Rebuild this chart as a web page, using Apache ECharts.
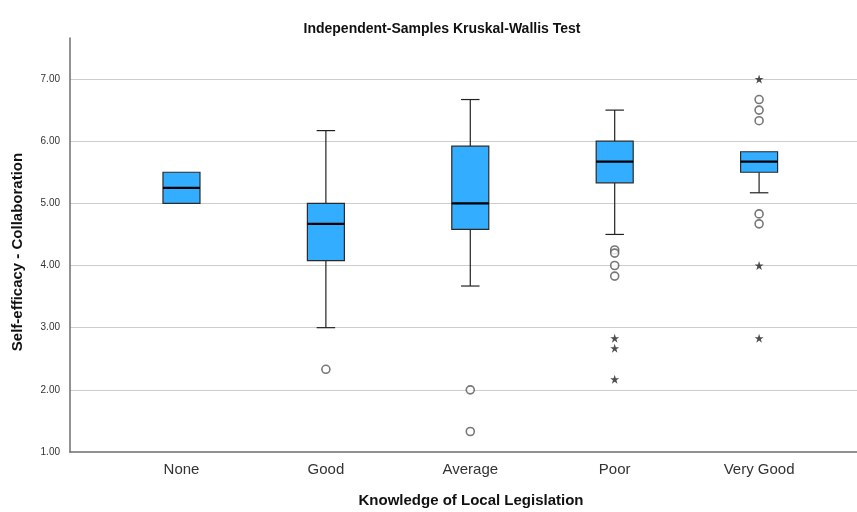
<!DOCTYPE html>
<html>
<head>
<meta charset="utf-8">
<script src="https://cdn.jsdelivr.net/npm/echarts@6/dist/echarts.min.js"></script>
<style>html,body{margin:0;padding:0;background:#fff;}#c{width:857px;height:512px;}</style>
</head>
<body>
<div id="c"></div>
<script>
// ---- data ----
const categories = ['None', 'Good', 'Average', 'Poor', 'Very Good'];
const boxMin    = [5.00, 3.00, 3.67, 4.50, 5.17];
const boxQ1     = [5.00, 4.08, 4.58, 5.33, 5.50];
const boxMedian = [5.25, 4.67, 5.00, 5.67, 5.67];
const boxQ3     = [5.50, 5.00, 5.92, 6.00, 5.83];
const boxMax    = [5.50, 6.17, 6.67, 6.50, 5.83];
// outliers (circles): category index, value
const outlierCat = [1, 2, 2, 3, 3, 3, 3, 4, 4, 4, 4, 4];
const outlierVal = [2.33, 2.00, 1.33, 4.25, 4.20, 4.00, 3.83, 6.67, 6.50, 6.33, 4.83, 4.67];
// extremes (stars)
const extremeCat = [3, 3, 3, 4, 4, 4];
const extremeVal = [2.83, 2.67, 2.17, 7.00, 4.00, 2.83];
const yTicks = [1, 2, 3, 4, 5, 6, 7];
const gridVals = [2, 3, 4, 5, 6, 7];

const FONT = '"Liberation Sans", Arial, sans-serif';
const boxData = categories.map((c, i) => [i, boxMin[i], boxQ1[i], boxMedian[i], boxQ3[i], boxMax[i]]);
const outlierData = outlierCat.map((c, i) => [c, outlierVal[i]]);
const extremeData = extremeCat.map((c, i) => [c, extremeVal[i]]);
const starPath = 'path://M50,0 L61.8,35.4 L99,35.4 L68.9,57.3 L80.3,92.7 L50,70.8 L19.7,92.7 L31.1,57.3 L1,35.4 L38.2,35.4 Z';

const chart = echarts.init(document.getElementById('c'), null, {renderer: 'canvas'});
const BOXW = 37;

chart.setOption({
  animation: false,
  backgroundColor: '#ffffff',
  title: {
    text: 'Independent-Samples Kruskal-Wallis Test',
    left: 437, top: 17, textAlign: 'center',
    textStyle: {fontFamily: FONT, fontSize: 14, fontWeight: 'bold', color: '#111'}
  },
  graphic: [
    {type: 'text', x: 471, y: 501, style: {text: 'Knowledge of Local Legislation', fontFamily: FONT, fontSize: 15, fontWeight: 'bold', fill: '#111', align: 'center', verticalAlign: 'middle'}},
    {type: 'text', x: 18, y: 252, rotation: Math.PI / 2, style: {text: 'Self-efficacy - Collaboration', fontFamily: FONT, fontSize: 15, fontWeight: 'bold', fill: '#111', align: 'center', verticalAlign: 'middle'}}
  ],
  grid: {left: 70, right: 0, top: 38, bottom: 60, containLabel: false},
  xAxis: {
    type: 'value', min: -0.772, max: 4.678,
    axisLine: {show: true, onZero: false, lineStyle: {color: '#6e6e6e', width: 1.5}},
    axisTick: {show: false},
    splitLine: {show: false},
    axisLabel: {
      customValues: [0, 1, 2, 3, 4],
      formatter: v => categories[Math.round(v)] || '',
      fontFamily: FONT, fontSize: 15, color: '#333', margin: 10
    }
  },
  yAxis: {
    type: 'value', min: 1, max: 7.66,
    axisLine: {show: true, onZero: false, lineStyle: {color: '#6e6e6e', width: 1.5}},
    axisTick: {show: false},
    splitLine: {show: false},
    axisLabel: {
      customValues: yTicks,
      formatter: v => v.toFixed(2),
      fontFamily: FONT, fontSize: 10, color: '#333', margin: 10
    }
  },
  series: [
    {
      type: 'line', data: [], z: 0, silent: true,
      markLine: {
        z: 0,
        silent: true, symbol: ['none', 'none'], label: {show: false},
        lineStyle: {color: '#cdcdcd', width: 1.2, type: 'solid'},
        emphasis: {disabled: true},
        data: gridVals.map(v => ({yAxis: v}))
      }
    },
    {
      type: 'custom', z: 5, data: boxData,
      renderItem: function (params, api) {
        const x = api.value(0);
        const pMin = api.coord([x, api.value(1)]);
        const pQ1 = api.coord([x, api.value(2)]);
        const pMed = api.coord([x, api.value(3)]);
        const pQ3 = api.coord([x, api.value(4)]);
        const pMax = api.coord([x, api.value(5)]);
        const cx = pMed[0];
        const hw = BOXW / 2, cw = BOXW / 4;
        const ws = {stroke: '#222', lineWidth: 1.2};
        const children = [];
        if (pMax[1] < pQ3[1] - 0.5) {
          children.push({type: 'line', shape: {x1: cx, y1: pMax[1], x2: cx, y2: pQ3[1]}, style: ws});
          children.push({type: 'line', shape: {x1: cx - cw, y1: pMax[1], x2: cx + cw, y2: pMax[1]}, style: ws});
        }
        if (pMin[1] > pQ1[1] + 0.5) {
          children.push({type: 'line', shape: {x1: cx, y1: pQ1[1], x2: cx, y2: pMin[1]}, style: ws});
          children.push({type: 'line', shape: {x1: cx - cw, y1: pMin[1], x2: cx + cw, y2: pMin[1]}, style: ws});
        }
        children.push({type: 'rect', shape: {x: cx - hw, y: pQ3[1], width: BOXW, height: pQ1[1] - pQ3[1]},
          style: {fill: '#33adff', stroke: '#2a2a2a', lineWidth: 1.2}});
        children.push({type: 'line', shape: {x1: cx - hw, y1: pMed[1], x2: cx + hw, y2: pMed[1]},
          style: {stroke: '#000', lineWidth: 2.2}});
        return {type: 'group', children: children};
      }
    },
    {
      type: 'scatter', z: 6, data: outlierData,
      symbol: 'circle', symbolSize: 8,
      itemStyle: {color: '#ffffff', borderColor: '#555', borderWidth: 1.6}
    },
    {
      type: 'scatter', z: 6, data: extremeData,
      symbol: starPath, symbolSize: 9,
      itemStyle: {color: '#222'}
    }
  ]
});
</script>
</body>
</html>
